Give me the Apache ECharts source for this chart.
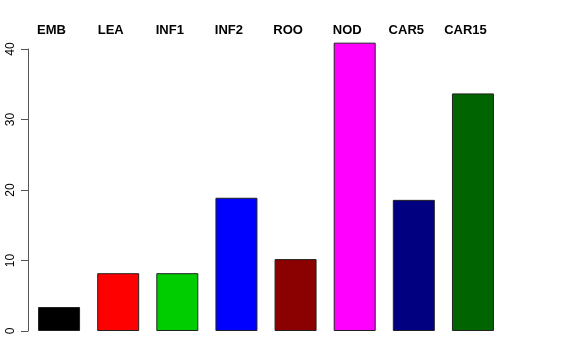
<!DOCTYPE html>
<html><head><meta charset="utf-8">
<script src="https://cdn.jsdelivr.net/npm/echarts@6/dist/echarts.min.js"></script>
<style>html,body{margin:0;padding:0;background:#fff}#c{width:576px;height:360px}</style>
</head><body><div id="c"></div>
<script>
const categories = ["EMB","LEA","INF1","INF2","ROO","NOD","CAR5","CAR15"];
const values = [3.4, 8.2, 8.2, 18.9, 10.2, 40.9, 18.6, 33.7];
const colors = ["#000000","#FF0000","#00CD00","#0000FF","#8B0000","#FF00FF","#000080","#006400"];
const yTicks = [0, 10, 20, 30, 40];

const chart = echarts.init(document.getElementById('c'));
chart.setOption({
  animation: false,
  grid: {left: 29.5, width: 473, top: 49, height: 282},
  xAxis: {
    type: 'category', data: categories, position: 'top',
    axisLine: {show: false}, axisTick: {show: false},
    axisLabel: {fontFamily: 'Liberation Sans, Arial, sans-serif', fontWeight: 'bold', fontSize: 13, color: '#000', margin: 12, padding: [0, 15, 0, 0]}
  },
  yAxis: {
    type: 'value', min: yTicks[0], max: yTicks[yTicks.length-1], interval: 10, offset: 1.5,
    axisLine: {show: true, lineStyle: {color: '#555', width: 1}},
    axisTick: {show: true, length: 7, lineStyle: {color: '#555'}},
    splitLine: {show: false},
    axisLabel: {rotate: 90, fontFamily: 'Liberation Sans, Arial, sans-serif', fontSize: 12, color: '#000', margin: 11}
  },
  series: [{
    type: 'bar', clip: false, barWidth: 42,
    data: values.map((v, i) => ({value: v, itemStyle: {color: colors[i]}})),
    itemStyle: {borderColor: '#222', borderWidth: 1}
  }]
});
</script></body></html>
